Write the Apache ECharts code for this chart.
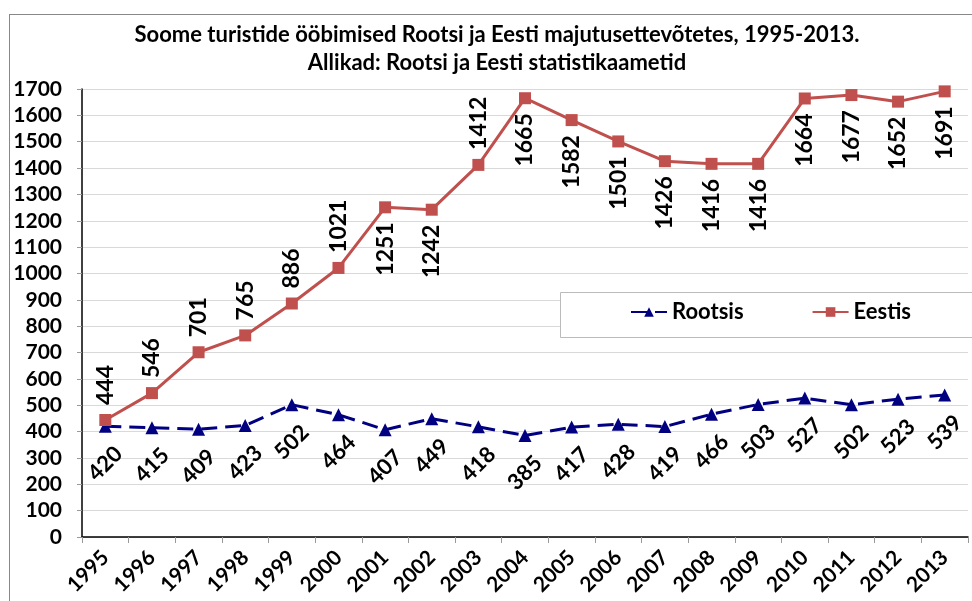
<!DOCTYPE html>
<html>
<head>
<meta charset="utf-8">
<script src="https://cdn.jsdelivr.net/npm/echarts@6/dist/echarts.min.js"></script>
<style>
  html, body { margin: 0; padding: 0; background: #fff; }
  #chart { width: 972px; height: 601px; }
  .frame { position: absolute; left: 9px; top: 14px; width: 980px; height: 600px; border: 1px solid #888; pointer-events: none; }
</style>
</head>
<body>
<div class="frame"></div>
<div id="chart"></div>
<script>
// andmed
var years = ['1995','1996','1997','1998','1999','2000','2001','2002','2003','2004',
             '2005','2006','2007','2008','2009','2010','2011','2012','2013'];
var rootsis = [420, 415, 409, 423, 502, 464, 407, 449, 418, 385, 417, 428, 419, 466, 503, 527, 502, 523, 539];
var eestis = [444, 546, 701, 765, 886, 1021, 1251, 1242, 1412, 1665, 1582, 1501, 1426, 1416, 1416, 1664, 1677, 1652, 1691];
// millised Eesti sildid on punkti kohal
var eestisAbove = [1, 1, 1, 1, 1, 1, 0, 0, 1, 0, 0, 0, 0, 0, 0, 0, 0, 0, 0];

var font = 'Lato, "Open Sans", sans-serif';

var chart = echarts.init(document.getElementById('chart'));

var option = {
  animation: false,
  textStyle: { fontFamily: font },
  title: {
    text: 'Soome turistide ööbimised Rootsi ja Eesti majutusettevõtetes, 1995-2013.\nAllikad: Rootsi ja Eesti statistikaametid',
    left: 492,
    textAlign: 'center',
    top: 16,
    textStyle: { fontSize: 22, fontWeight: 'bold', color: '#000', lineHeight: 28, fontFamily: font }
  },
  // legendi kast
  graphic: [{
    type: 'rect',
    left: 560,
    top: 292,
    shape: { width: 430, height: 45 },
    style: { fill: '#fff', stroke: '#bbb', lineWidth: 1 },
    z: 10
  }],
  legend: {
    left: 630,
    top: 301,
    width: 400,
    orient: 'horizontal',
    padding: 0,
    itemGap: 68,
    itemWidth: 36,
    itemHeight: 12,
    textStyle: { fontSize: 22, fontWeight: 'bold', color: '#000', fontFamily: font },
    data: ['Rootsis', 'Eestis'],
    z: 20
  },
  grid: { left: 82, right: 4, top: 89, bottom: 64 },
  xAxis: {
    type: 'category',
    data: years,
    boundaryGap: true,
    axisLine: { lineStyle: { color: '#000', width: 1.5 } },
    axisTick: { show: true, length: 6, lineStyle: { color: '#999' } },
    axisLabel: { rotate: 45, fontSize: 21, fontWeight: 'bold', color: '#000', margin: 17, interval: 0, fontFamily: font }
  },
  yAxis: {
    type: 'value',
    min: 0,
    max: 1700,
    interval: 100,
    axisLine: { show: true, lineStyle: { color: '#000', width: 1.5 } },
    axisTick: { show: true, length: 5, lineStyle: { color: '#999' } },
    axisLabel: {
      fontSize: 21, fontWeight: 'bold', color: '#000', margin: 20, fontFamily: font,
      formatter: function (v) { return String(v); }
    },
    splitLine: { lineStyle: { color: '#d9d9d9' } }
  },
  series: [
    {
      name: 'Rootsis',
      type: 'line',
      data: rootsis,
      color: '#000080',
      symbol: 'triangle',
      symbolSize: 13,
      lineStyle: { color: '#000080', width: 3, type: [16, 8] },
      itemStyle: { color: '#000080' },
      label: {
        show: true,
        position: 'bottom',
        rotate: 45,
        distance: 31,
        align: 'center',
        verticalAlign: 'middle',
        fontSize: 22,
        fontWeight: 'bold',
        color: '#000',
        fontFamily: font
      },
      z: 3
    },
    {
      name: 'Eestis',
      type: 'line',
      data: eestis.map(function (v, i) {
        var up = eestisAbove[i];
        return {
          value: v,
          label: {
            position: up ? 'top' : 'bottom',
            align: up ? 'left' : 'right',
            verticalAlign: 'middle'
          }
        };
      }),
      color: '#c0504d',
      symbol: 'rect',
      symbolSize: 12,
      lineStyle: { color: '#c0504d', width: 3 },
      itemStyle: { color: '#c0504d' },
      label: {
        show: true,
        rotate: 90,
        distance: 9,
        fontSize: 23,
        fontWeight: 'bold',
        color: '#000',
        fontFamily: font
      },
      z: 4
    }
  ]
};

chart.setOption(option);
</script>
</body>
</html>
